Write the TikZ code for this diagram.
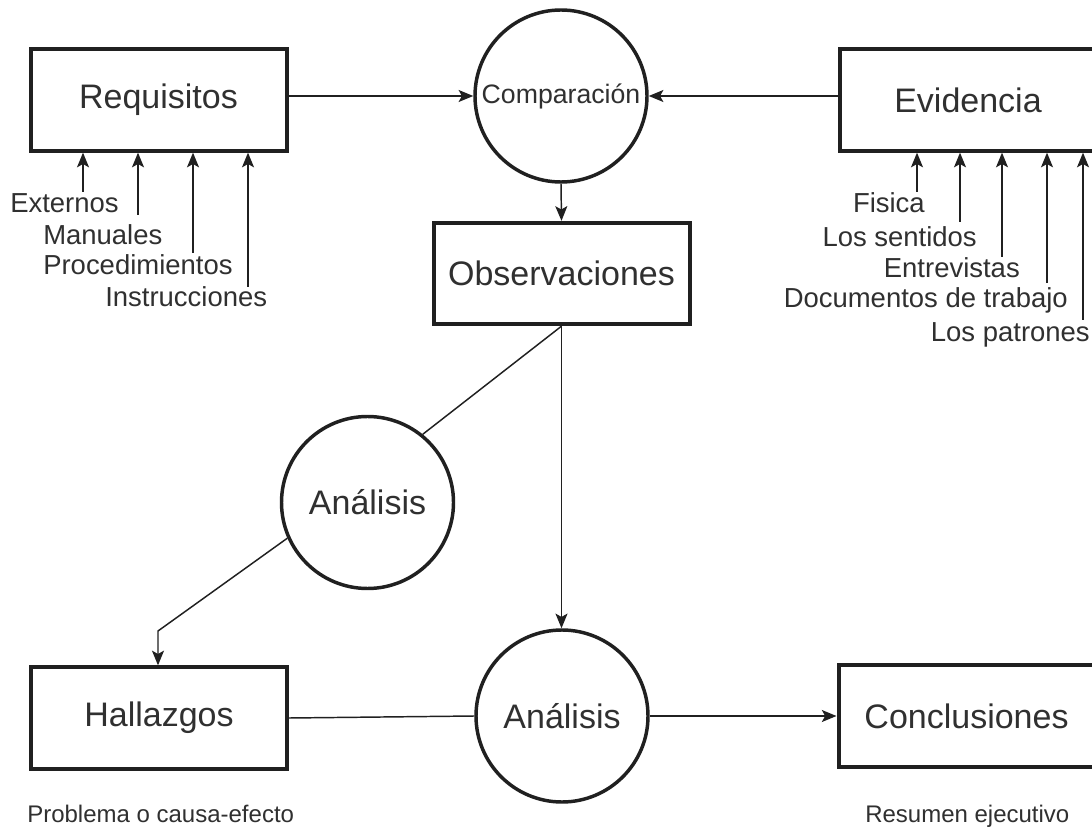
\documentclass[tikz,border=0pt]{standalone}
\usepackage{fontspec}
\setmainfont{Liberation Sans}
\usetikzlibrary{arrows.meta,calc}
\definecolor{ink}{HTML}{202020}
\definecolor{txt}{HTML}{303030}
\begin{document}
\begin{tikzpicture}[x=0.75pt,y=-0.75pt,
 box/.style={draw=ink,line width=3pt,minimum width=192pt,minimum height=76pt,inner sep=0pt,text=txt,font=\fontsize{25.5}{30}\selectfont},
 proc/.style={draw=ink,circle,line width=2.6pt,minimum size=129pt,inner sep=0pt,text=txt,font=\fontsize{25.5}{30}\selectfont},
 conn/.style={draw=ink,line width=1.1pt},
 arr/.style={conn,-{Stealth[length=11pt,width=9pt,inset=2.5pt]}},
 lab/.style={text=txt,font=\fontsize{20.6}{24}\selectfont,inner sep=0pt},
 note/.style={text=txt,font=\fontsize{18}{22}\selectfont,inner sep=0pt}]
\clip (0,0) rectangle (1092,830);
\fill[white] (0,0) rectangle (1092,830);

% nodes
\node[box] (req) at (158.5,100) {Requisitos};
\node[box] (evi) at (968,100) {Evidencia};
\node[proc,font=\fontsize{20}{24}\selectfont] (comp) at (561,96) {Comparación};
\node[box] (obs) at (561.5,273.5) {Observaciones};
\node[proc] (an1) at (367.5,502.5) {Análisis};
\node[box] (hal) at (159,718) {Hallazgos};
\node[proc] (an2) at (562,716) {Análisis};
\node[box] (con) at (966.5,716) {Conclusiones};

% main connectors
\draw[arr] (req.east |- comp) -- (comp.west);
\draw[arr] (evi.west |- comp) -- (comp.east);
\draw[arr] (comp.south) -- (obs.north);
\draw[conn] (obs.south) -- (an1.51);
\coordinate (bend) at (158,631);
\draw[arr] (an1.204) -- (bend) -- (bend |- hal.north);
\draw[arr] (obs.south) -- (obs.south |- an2.north);
\draw[conn] (hal.east) -- (an2.west);
\draw[arr] (an2.east) -- (con.west);

% Requisitos inputs
\coordinate (r1) at (83,192);
\coordinate (r2) at (138,215);
\coordinate (r3) at (193,253);
\coordinate (r4) at (248,287);
\foreach \c in {r1,r2,r3,r4} \draw[arr] (\c) -- (\c |- req.south);
\node[lab,anchor=base west] (lext) at (10,213) {Externos};
\node[lab,anchor=base west] (lman) at (43,245) {Manuales};
\node[lab,anchor=base west] (lpro) at (43,275) {Procedimientos};
\node[lab,anchor=base west] (lins) at (105,307) {Instrucciones};

% Evidencia inputs
\coordinate (e1) at (917,192);
\coordinate (e2) at (960,222);
\coordinate (e3) at (1002,257);
\coordinate (e4) at (1047,283);
\coordinate (e5) at (1083,320);
\foreach \c in {e1,e2,e3,e4,e5} \draw[arr] (\c) -- (\c |- evi.south);
\node[lab,anchor=base east] (lfis) at (925,213) {Fisica};
\node[lab,anchor=base east] (lsen) at (977,247) {Los sentidos};
\node[lab,anchor=base east] (lent) at (1020,278) {Entrevistas};
\node[lab,anchor=base east] (ldoc) at (1068,308) {Documentos de trabajo};
\node[lab,anchor=base east] (lpat) at (1090,342) {Los patrones};

% notes
\node[note,anchor=base west] (nprob) at (27,822) {Problema o causa-efecto};
\node[note,anchor=base west] (nres) at (865,822) {Resumen ejecutivo};
\end{tikzpicture}
\end{document}
